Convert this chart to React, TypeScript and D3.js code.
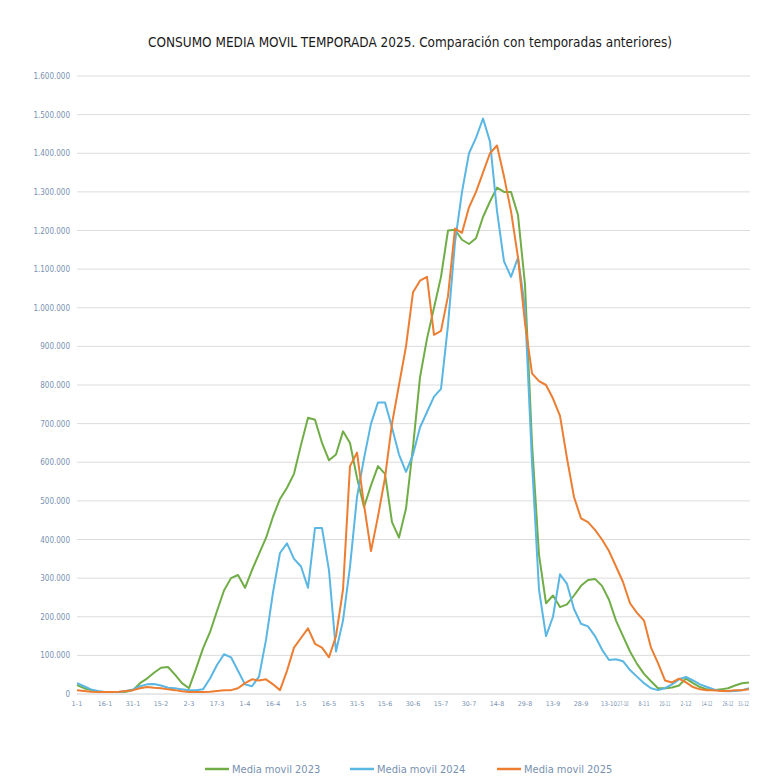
import React from "react";
import * as d3 from "d3";

const series2023 = [23,15,10,6,5,5,5,6,10,28,40,55,68,70,50,28,15,65,118,160,215,268,300,308,275,321,363,404,459,505,534,570,645,715,710,650,605,620,680,650,560,484,540,590,570,445,405,480,640,820,920,1000,1080,1200,1202,1176,1165,1180,1235,1275,1311,1300,1300,1240,1060,650,360,235,255,225,232,255,280,295,298,280,244,190,150,110,78,52,33,15,15,17,22,40,28,18,12,10,12,15,22,28,30];
const series2024 = [28,20,12,8,5,5,5,8,12,20,25,26,22,16,15,12,10,10,12,40,75,103,95,60,25,20,45,140,263,365,390,350,330,275,430,430,320,110,190,330,510,610,700,755,755,690,620,575,620,690,730,770,790,955,1170,1300,1400,1440,1490,1430,1250,1120,1080,1130,1000,600,270,150,200,310,285,220,182,175,150,115,88,90,85,62,45,28,15,10,15,25,38,44,35,25,18,12,8,7,8,10,15];
const series2025 = [10,8,6,5,5,5,6,8,10,15,18,16,15,12,10,7,5,5,5,6,8,10,10,15,28,38,35,38,25,10,60,120,145,170,130,120,95,150,270,590,625,490,370,460,560,700,800,900,1040,1070,1080,930,940,1030,1205,1194,1260,1300,1350,1400,1420,1340,1250,1130,960,830,810,800,765,720,610,510,455,445,425,400,370,330,290,235,210,190,120,80,35,30,40,30,18,12,10,10,8,8,10,10,12];

const xTickLabels = ["1-1","16-1","31-1","15-2","2-3","17-3","1-4","16-4","1-5","16-5","31-5","15-6","30-6","15-7","30-7","14-8","29-8","13-9","28-9","13-10","27-10","8-11","20-11","2-12","14-12","26-12","31-12"];
const xTickIndex = [0,4,8,12,16,20,24,28,32,36,40,44,48,52,56,60,64,68,72,76,78,81,84,87,90,93,96];
const yTicks = [0,100000,200000,300000,400000,500000,600000,700000,800000,900000,1000000,1100000,1200000,1300000,1400000,1500000,1600000];

const seriesNames = ["Media movil 2023","Media movil 2024","Media movil 2025"];
const seriesColors = ["#70ad47","#5ab6e2","#ed7d31"];

const fmt = (v: number) => v === 0 ? "0" : d3.format(",")(v).replace(/,/g, ".");

export default function App() {
  const W = 757, H = 782;
  const all = [series2023, series2024, series2025];
  const n = series2023.length;
  const x = d3.scaleLinear().domain([0, n - 1]).range([77, 749]);
  const y = d3.scaleLinear().domain([0, 1600000]).range([694, 76]);
  const line = d3.line<number>().x((_, i) => x(i)).y(d => y(d * 1000));
  const font = "'Liberation Sans Narrow', 'DejaVu Sans Condensed', 'Liberation Sans', sans-serif";
  const legendX = [205, 350, 497];
  return (
    <svg width={W} height={H} style={{ position: "absolute", left: 0, top: 0, background: "#fff" }} fontFamily={font}>
      <rect x={0} y={0} width={W} height={H} fill="#fff" />
      <text x={410} y={47} textAnchor="middle" fontSize={14} fill="#1a1a1a" textLength={524} lengthAdjust="spacingAndGlyphs">
        CONSUMO MEDIA MOVIL TEMPORADA 2025. Comparación con temporadas anteriores)
      </text>
      {yTicks.map(t => (
        <g key={t}>
          {t > 0 && <line x1={77} x2={750} y1={y(t)} y2={y(t)} stroke="#dcdcdc" strokeWidth={1} />}
          <text x={70} y={y(t) + 3} textAnchor="end" fontSize={8} fill="#7891b0">{fmt(t)}</text>
        </g>
      ))}
      <line x1={77} x2={750} y1={y(0)} y2={y(0)} stroke="#d0d0d0" strokeWidth={1} />
      {xTickIndex.map((idx, k) => {
        const dense = k >= 20;
        const last = k === xTickIndex.length - 1;
        const len = xTickLabels[k].length;
        const tl = dense ? Math.min(11, len * 2.8) : Math.min(16, len * 3.6);
        return (
          <text key={k} x={last ? 749 : x(idx)} y={706} textAnchor={last ? "end" : "middle"} fontSize={6.5} fill="#7891b0"
            textLength={tl} lengthAdjust="spacingAndGlyphs">{xTickLabels[k]}</text>
        );
      })}
      {all.map((s, k) => (
        <path key={k} d={line(s) || ""} fill="none" stroke={seriesColors[k]} strokeWidth={2} strokeLinejoin="round" />
      ))}
      {seriesNames.map((nm, k) => (
        <g key={nm}>
          <line x1={legendX[k]} x2={legendX[k] + 24} y1={769} y2={769} stroke={seriesColors[k]} strokeWidth={2.5} />
          <text x={legendX[k] + 27} y={773} fontSize={11} fill="#7891b0">{nm}</text>
        </g>
      ))}
    </svg>
  );
}
